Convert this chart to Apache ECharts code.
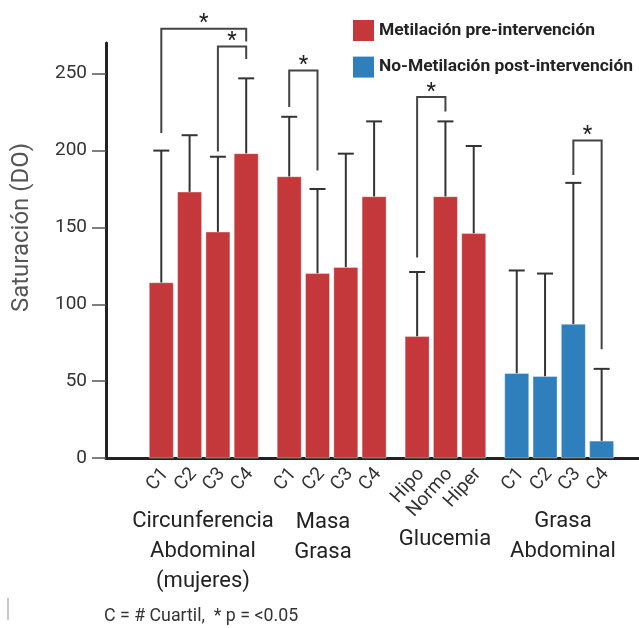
<!DOCTYPE html>
<html>
<head>
<meta charset="utf-8">
<script src="https://cdn.jsdelivr.net/npm/echarts@6/dist/echarts.min.js"></script>
<style>
html,body{margin:0;padding:0;background:#fff;}
#chart{width:639px;height:628px;}
</style>
</head>
<body>
<div id="chart"></div>
<script>
// ---- data ----
const tickLabels = ['C1','C2','C3','C4','C1','C2','C3','C4','Hipo','Normo','Hiper','C1','C2','C3','C4'];
const groupOf    = [0,0,0,0,1,1,1,1,2,2,2,3,3,3,3];
const groupNames = ['Circunferencia\nAbdominal\n(mujeres)','Masa\nGrasa','Glucemia','Grasa\nAbdominal'];
const seriesNames = ['Metilación pre-intervención','No-Metilación post-intervención'];
const seriesOf   = [0,0,0,0,0,0,0,0,0,0,0,1,1,1,1];
const values     = [114,173,147,198,183,120,124,170,79,170,146,55,53,87,11];
const errUpper   = [200,210,196,247,222,175,198,219,121,219,203,122,120,179,58];
// brackets: [fromBar, toBar, top, leftLegEnd, rightLegEnd]
const brackets = [
  [0,3,279.3,211.4,271],
  [2,3,267.8,199.4,259.6],
  [4,5,252.1,228.3,187],
  [8,9,234.8,130.4,225.5],
  [13,14,206.6,184.2,70.8]
];
const yTicks = [0,50,100,150,200,250];
const footnote = 'C = # Cuartil,  * p = <0.05';
const yTitle = 'Saturación (DO)';

// ---- layout ----
const GAP = 0.52;
const pos = i => i + GAP * groupOf[i];
const colors = ['#C4373A','#2F7FBD'];
const FONT = 'Roboto, "Noto Sans", sans-serif';

function barData(s){
  const d = [];
  values.forEach((v,i)=>{ if(seriesOf[i]===s) d.push([pos(i), v, errUpper[i], i]); });
  return d;
}

function renderBar(params, api){
  const x = api.value(0), v = api.value(1), e = api.value(2);
  const b = api.coord([x,0]), t = api.coord([x,v]), et = api.coord([x,e]);
  const w = 24, cw = 16;
  return {type:'group', children:[
    {type:'line', shape:{x1:t[0], y1:t[1], x2:et[0], y2:et[1]}, style:{stroke:'#333', lineWidth:2}},
    {type:'line', shape:{x1:et[0]-cw/2, y1:et[1], x2:et[0]+cw/2, y2:et[1]}, style:{stroke:'#333', lineWidth:2}},
    {type:'rect', shape:{x:b[0]-w/2, y:t[1], width:w, height:b[1]-t[1]},
      style:{fill:api.visual('color'), stroke:'rgba(255,255,255,0.35)', lineWidth:1}}
  ]};
}

const chart = echarts.init(document.getElementById('chart'), null, {renderer:'canvas'});
const option = {
  animation:false,
  backgroundColor:'#fff',
  grid:{left:106, right:0, top:43, bottom:170, containLabel:false},
  xAxis:{type:'value', min:-1.954, max:16.88,
    axisLine:{show:true, onZero:false, lineStyle:{color:'#222', width:3}},
    axisTick:{show:false}, axisLabel:{show:false}, splitLine:{show:false}},
  yAxis:{type:'value', min:0, max:270, interval:50,
    axisLine:{show:true, onZero:false, lineStyle:{color:'#222', width:3}},
    axisTick:{show:true, length:14, lineStyle:{color:'#555', width:1.5}, customValues:yTicks},
    axisLabel:{fontSize:19, color:'#333', margin:19, fontFamily:FONT, customValues:yTicks},
    splitLine:{show:false}},
  legend:{orient:'vertical', left:353, top:20, padding:0, itemWidth:21, itemHeight:21, itemGap:15.6, icon:'rect',
    textStyle:{fontSize:17.4, fontWeight:'bold', color:'#222', fontFamily:FONT},
    data:seriesNames},
  series:[
    {type:'custom', name:seriesNames[0], itemStyle:{color:colors[0]}, data:barData(0), renderItem:renderBar, clip:false, z:2},
    {type:'custom', name:seriesNames[1], itemStyle:{color:colors[1]}, data:barData(1), renderItem:renderBar, clip:false, z:2},
    {type:'custom', name:'ticklabels', data:tickLabels.map((l,i)=>[pos(i), i]), clip:false, silent:true,
      renderItem:function(params, api){
        const i = api.value(1);
        const p = api.coord([api.value(0),0]);
        return {type:'group', x:p[0]+4, y:p[1]+13, rotation:48*Math.PI/180, children:[
          {type:'text', x:0, y:0,
           style:{text:tickLabels[i], fontSize:19, fontFamily:FONT, fill:'#333', align:'right', verticalAlign:'middle'}}
        ]};
      }},
    {type:'custom', name:'brackets', data:brackets.map(b=>[pos(b[0]), pos(b[1]), b[2], b[3], b[4]]), clip:false, silent:true, z:3,
      renderItem:function(params, api){
        const x1 = api.value(0), x2 = api.value(1), top = api.value(2), l = api.value(3), r = api.value(4);
        const a = api.coord([x1,l]), b = api.coord([x1,top]), c = api.coord([x2,top]), d = api.coord([x2,r]);
        return {type:'group', children:[
          {type:'polyline', shape:{points:[a,b,c,d]}, style:{stroke:'#444', lineWidth:2, fill:null}},
          {type:'text', x:(b[0]+c[0])/2, y:b[1]-5, style:{text:'*', fontSize:22, fontFamily:FONT, fill:'#222', align:'center', verticalAlign:'middle'}}
        ]};
      }}
  ],
  graphic:[
    {type:'text', x:22, y:227.5, rotation:Math.PI/2,
      style:{text:yTitle, fontSize:24, fontFamily:FONT, fill:'#555', align:'center', verticalAlign:'middle'}},
    {type:'text', x:203, y:551, style:{text:groupNames[0], fontSize:22, lineHeight:30, fontFamily:FONT, fill:'#222', align:'center', verticalAlign:'middle'}},
    {type:'text', x:323, y:537, style:{text:groupNames[1], fontSize:22, lineHeight:30, fontFamily:FONT, fill:'#222', align:'center', verticalAlign:'middle'}},
    {type:'text', x:445, y:539.3, style:{text:groupNames[2], fontSize:22, lineHeight:30, fontFamily:FONT, fill:'#222', align:'center', verticalAlign:'middle'}},
    {type:'text', x:563, y:536, style:{text:groupNames[3], fontSize:22, lineHeight:30, fontFamily:FONT, fill:'#222', align:'center', verticalAlign:'middle'}},
    {type:'text', x:104, y:617, style:{text:footnote, fontSize:17.8, fontFamily:FONT, fill:'#333', align:'left', verticalAlign:'middle'}},
    {type:'rect', shape:{x:7, y:598, width:2, height:22}, style:{fill:'#c8c8c8'}}
  ]
};
chart.setOption(option);
</script>
</body>
</html>
